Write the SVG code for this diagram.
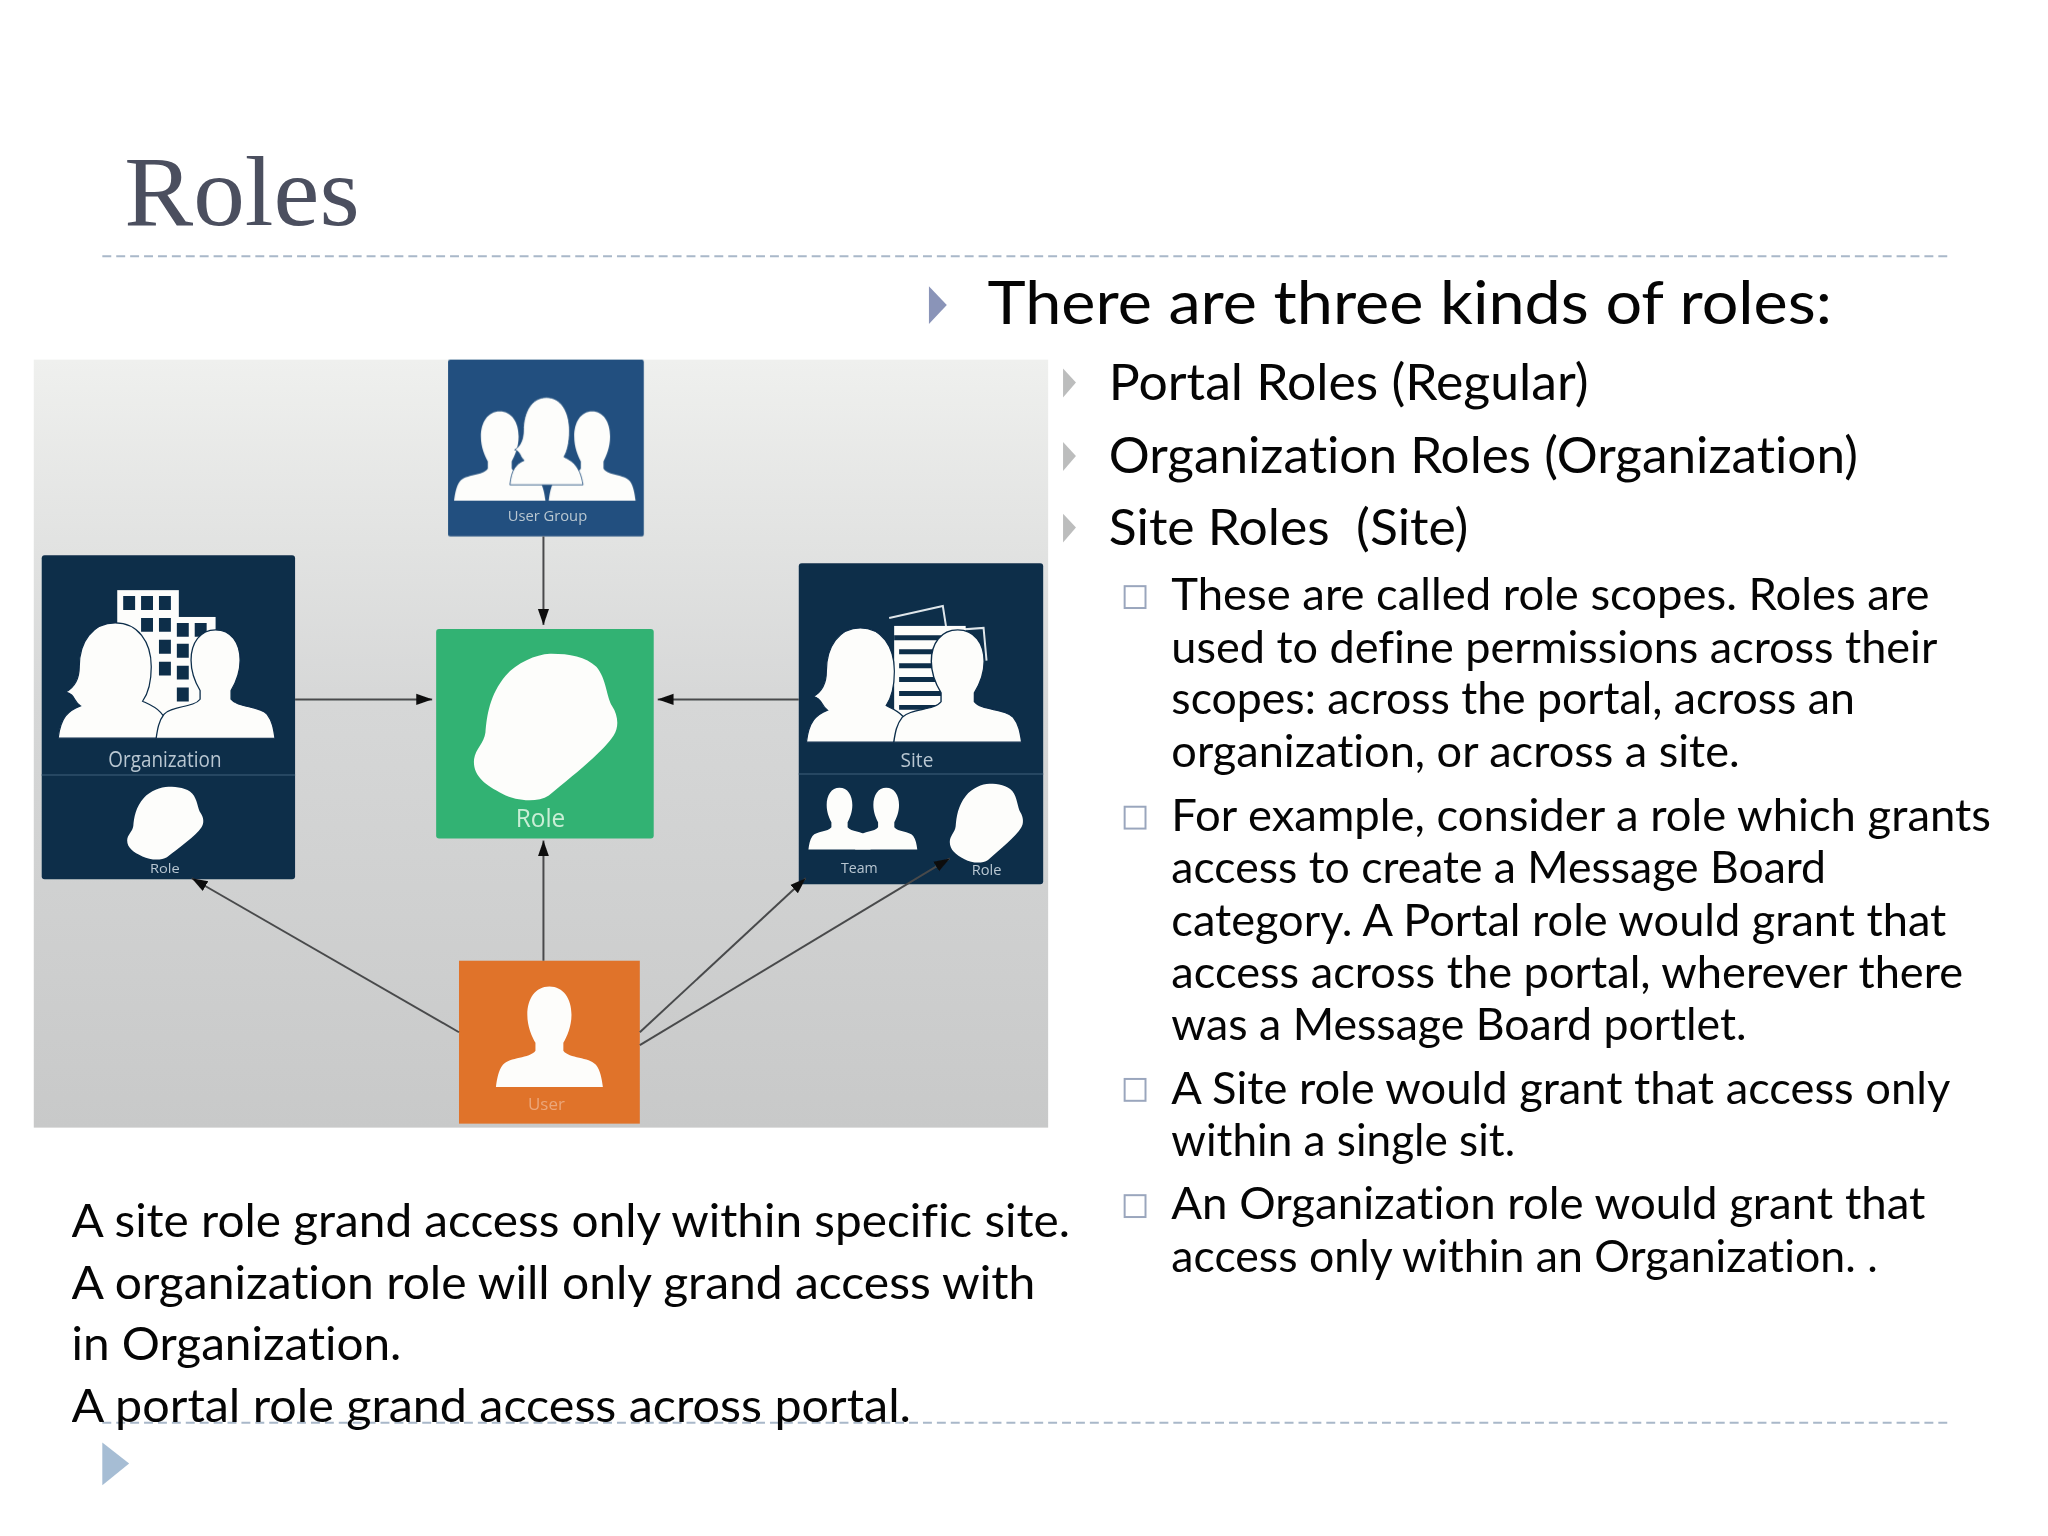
<svg xmlns="http://www.w3.org/2000/svg" width="2048" height="1536" viewBox="0 0 2048 1536">
<style>
text{font-family:"Lato","Liberation Sans",sans-serif;fill:#050505;font-variant-ligatures:none}
.l1{font-size:60px}.l2{font-size:50px}.l3{font-size:44px}.lt{font-size:47px}
.title{font-family:"Liberation Serif",serif;font-size:100px;fill:#4b4f5f}
.nl{font-family:"Open Sans","Liberation Sans",sans-serif;text-anchor:middle;fill:#b9c7d1}
.w{fill:#fdfdfb}
.navy{fill:#0c2d4a}
.dash{stroke:#a9b8c9;stroke-width:2;stroke-dasharray:9 5;fill:none}
.arr{stroke:#484a4b;stroke-width:2;fill:none;marker-end:url(#a)}
.b2{fill:#bcbdbd}.b3{fill:#fff;stroke:#9aa6bd;stroke-width:2}
</style>
<defs>
<linearGradient id="bg" x1="0" y1="0" x2="0" y2="1"><stop offset="0" stop-color="#eff0ee"/><stop offset=".45" stop-color="#d6d7d7"/><stop offset="1" stop-color="#c8c9c9"/></linearGradient>
<filter id="soft" x="-2%" y="-2%" width="104%" height="104%"><feGaussianBlur stdDeviation="0.8"/></filter>
<marker id="a" viewBox="0 0 10 10" refX="10" refY="5" markerWidth="16" markerHeight="16" markerUnits="userSpaceOnUse" orient="auto"><path d="M0 1.5L10 5L0 8.5Z" fill="#111"/></marker>
<path id="man" d="M0 0C12 0 19 12 19 28C19 40 15 50 12 56L12 64C17 72 34 70 40 78C44 84 45 92 46 100L-46 100C-45 92-44 84-40 78C-34 70-17 72-12 64L-12 56C-15 50-19 40-19 28C-19 12-12 0 0 0Z"/>
<path id="woman" d="M0 0C18 0 29 16 29 38C29 52 26 62 22 68C30 72 42 76 46 100L-46 100C-44 82-38 76-28 72C-34 68-32 62-40 60C-33 56-29 48-29 38C-29 16-18 0 0 0Z"/>
<path id="role" d="M54 0C66 0 78 2 85 9C92 17 92 30 96 36C100 42 101 50 97 56C90 67 68 84 52 97C44 102 30 101 20 96C8 90 0 84 0 74C0 66 7 62 8 54C9 42 11 28 22 15C30 6 44 0 54 0Z"/>
</defs>
<rect width="2048" height="1536" fill="#fff"/>
<g transform="scale(.9935)">
<text class="title" x="125" y="226" textLength="237" lengthAdjust="spacingAndGlyphs">Roles</text>
<path class="dash" d="M103 258H1960M103 1432H1960"/>
<polygon points="103,1452 130,1473 103,1495" fill="#a6bdd4"/>
<rect x="34" y="362" width="1021" height="773" fill="url(#bg)"/>
<g filter="url(#soft)">
<g id="node-user-group">
<rect x="451" y="362" width="197" height="178" rx="2" fill="#23507f"/>
<use href="#man" class="w" transform="translate(503 414) scale(1,.9)"/>
<use href="#man" class="w" transform="translate(596 414) scale(.95,.9)"/>
<use href="#woman" class="w" stroke="#23507f" stroke-width="1" transform="translate(550 400) scale(.8,.88)"/>
<text class="nl" x="551" y="524" font-size="15" textLength="80" lengthAdjust="spacingAndGlyphs">User Group</text>
</g>
<g id="node-organization">
<rect x="42" y="559" width="255" height="326" rx="3" class="navy"/>
<path d="M42 780H297" stroke="#2f506b" stroke-width="1.5"/>
<rect x="118" y="594" width="62" height="130" fill="#fdfdfb"/><rect x="160" y="621" width="57" height="100" fill="#fdfdfb"/>
<path d="M124 600h12v14h-12zM142 600h12v14h-12zM160 600h12v14h-12zM142 622h12v14h-12zM160 622h12v14h-12zM178 627h12v14h-12zM196 627h12v14h-12zM160 644h12v14h-12zM178 648h12v14h-12zM160 666h12v14h-12zM178 670h12v14h-12zM178 692h12v14h-12z" fill="#0c2d4a"/>
<use href="#woman" class="w" stroke="#0c2d4a" stroke-width="1" transform="translate(116 627) scale(1.25,1.16)"/>
<use href="#man" class="w" stroke="#0c2d4a" stroke-width="1" transform="translate(217 634) scale(1.3,1.09)"/>
<text class="nl" x="166" y="772" font-size="22" textLength="114" lengthAdjust="spacingAndGlyphs">Organization</text>
<use href="#role" class="w" transform="translate(128 792) scale(.77,.73)"/>
<text class="nl" x="166" y="879" font-size="13" textLength="30" lengthAdjust="spacingAndGlyphs">Role</text>
</g>
<g id="node-role">
<rect x="439" y="633" width="219" height="211" rx="3" fill="#33b273"/>
<use href="#role" class="w" transform="translate(477 658) scale(1.45,1.47)"/>
<text class="nl" x="544" y="832" font-size="26" style="fill:#c9eed6" textLength="50" lengthAdjust="spacingAndGlyphs">Role</text>
</g>
<g id="node-site">
<rect x="804" y="567" width="246" height="323" rx="3" class="navy"/>
<path d="M804 779H1050" stroke="#2f506b" stroke-width="1.5"/>
<path d="M895 622L949 610L954 642M908 638L990 632L993 665" fill="none" stroke="#dfe6ea" stroke-width="2"/>
<rect x="900" y="630" width="72" height="100" fill="#fdfdfb"/>
<path d="M900 642H965M905 656H965M905 670H950M905 684H972M905 698H965M905 712H972" stroke="#0c2d4a" stroke-width="5"/>
<use href="#woman" class="w" stroke="#0c2d4a" stroke-width="1" transform="translate(866 632) scale(1.18,1.15)"/>
<use href="#man" class="w" stroke="#0c2d4a" stroke-width="1" transform="translate(964 634) scale(1.4,1.13)"/>
<text class="nl" x="923" y="772" font-size="20" textLength="33" lengthAdjust="spacingAndGlyphs">Site</text>
<use href="#man" class="w" transform="translate(845 793) scale(.68,.62)"/>
<use href="#man" class="w" transform="translate(892 793) scale(.68,.62)"/>
<use href="#role" class="w" transform="translate(956 789) scale(.74,.79)"/>
<text class="nl" x="865" y="879" font-size="14" textLength="37" lengthAdjust="spacingAndGlyphs">Team</text>
<text class="nl" x="993" y="881" font-size="14" textLength="30" lengthAdjust="spacingAndGlyphs">Role</text>
</g>
<g id="node-user">
<rect x="462" y="967" width="182" height="164" fill="#e0732c"/>
<use href="#man" class="w" transform="translate(553 993) scale(1.17,1.01)"/>
<text class="nl" x="550" y="1117" font-size="17" style="fill:#eba77a" textLength="37" lengthAdjust="spacingAndGlyphs">User</text>
</g>
<g id="connectors">
<path class="arr" d="M547 540V629"/>
<path class="arr" d="M297 704H435"/>
<path class="arr" d="M804 704H662"/>
<path class="arr" d="M547 967V846"/>
<path class="arr" d="M462 1039L193 884"/>
<path class="arr" d="M644 1039L811 884"/>
<path class="arr" d="M644 1052L956 864"/>
</g>
</g>
<g id="body-text">
<polygon points="935,288 953,307 935,326" fill="#8a94b8"/>
<text class="l1" x="994" y="326" textLength="850" lengthAdjust="spacingAndGlyphs">There are three kinds of roles:</text>
<polygon class="b2" points="1070,371 1083,385 1070,400"/>
<polygon class="b2" points="1070,445 1083,459 1070,474"/>
<polygon class="b2" points="1070,517 1083,531 1070,546"/>
<text class="l2" x="1116" y="403" textLength="483" lengthAdjust="spacingAndGlyphs">Portal Roles (Regular)</text>
<text class="l2" x="1116" y="476" textLength="754" lengthAdjust="spacingAndGlyphs">Organization Roles (Organization)</text>
<text class="l2" x="1116" y="549" textLength="362" lengthAdjust="spacingAndGlyphs" xml:space="preserve">Site Roles  (Site)</text>
<rect class="b3" x="1132" y="590" width="21" height="22"/>
<rect class="b3" x="1132" y="812" width="21" height="22"/>
<rect class="b3" x="1132" y="1086" width="21" height="22"/>
<rect class="b3" x="1132" y="1203" width="21" height="22"/>
<text class="l3" x="1179" y="614" textLength="763" lengthAdjust="spacingAndGlyphs">These are called role scopes. Roles are</text>
<text class="l3" x="1179" y="667" textLength="771" lengthAdjust="spacingAndGlyphs">used to define permissions across their</text>
<text class="l3" x="1179" y="719" textLength="688" lengthAdjust="spacingAndGlyphs">scopes: across the portal, across an</text>
<text class="l3" x="1179" y="772" textLength="572" lengthAdjust="spacingAndGlyphs">organization, or across a site.</text>
<text class="l3" x="1179" y="836" textLength="825" lengthAdjust="spacingAndGlyphs">For example, consider a role which grants</text>
<text class="l3" x="1179" y="889" textLength="659" lengthAdjust="spacingAndGlyphs">access to create a Message Board</text>
<text class="l3" x="1179" y="942" textLength="780" lengthAdjust="spacingAndGlyphs">category. A Portal role would grant that</text>
<text class="l3" x="1179" y="994" textLength="797" lengthAdjust="spacingAndGlyphs">access across the portal, wherever there</text>
<text class="l3" x="1179" y="1047" textLength="579" lengthAdjust="spacingAndGlyphs">was a Message Board portlet.</text>
<text class="l3" x="1179" y="1111" textLength="784" lengthAdjust="spacingAndGlyphs">A Site role would grant that access only</text>
<text class="l3" x="1179" y="1164" textLength="346" lengthAdjust="spacingAndGlyphs">within a single sit.</text>
<text class="l3" x="1179" y="1227" textLength="759" lengthAdjust="spacingAndGlyphs">An Organization role would grant that</text>
<text class="l3" x="1179" y="1280" textLength="711" lengthAdjust="spacingAndGlyphs">access only within an Organization. .</text>
<text class="lt" x="72" y="1245" textLength="1005" lengthAdjust="spacingAndGlyphs">A site role grand access only within specific site.</text>
<text class="lt" x="72" y="1307" textLength="970" lengthAdjust="spacingAndGlyphs">A organization role will only grand access with</text>
<text class="lt" x="72" y="1369" textLength="332" lengthAdjust="spacingAndGlyphs">in Organization.</text>
<text class="lt" x="72" y="1431" textLength="845" lengthAdjust="spacingAndGlyphs">A portal role grand access across portal.</text>
</g>
</g>
</svg>
